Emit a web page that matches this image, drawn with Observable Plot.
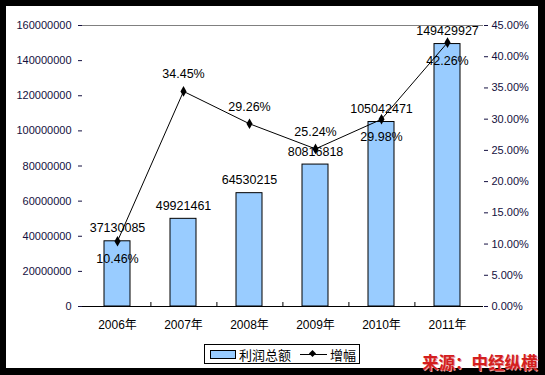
<!DOCTYPE html>
<html><head><meta charset="utf-8">
<script src="https://cdn.jsdelivr.net/npm/d3@7"></script>
<script src="https://cdn.jsdelivr.net/npm/@observablehq/plot@0.6"></script>
<style>
html,body{margin:0;padding:0;background:#000;}
#wrap{position:relative;width:545px;height:375px;background:#000;overflow:hidden;}
#inner{position:absolute;left:6px;top:6px;width:532px;height:362px;background:#fff;}
#chart{position:absolute;left:0;top:0;}
#legend{position:absolute;left:204px;top:344px;width:156px;height:20px;border:1px solid #000;background:#fff;
  font:13px "Noto Sans CJK SC",sans-serif;display:flex;align-items:center;box-sizing:border-box;padding-left:5px;white-space:nowrap;}
#legend .sw{display:inline-block;width:24px;height:7px;background:#99ccff;border:1px solid #000;margin-right:3px;}
#legend .ln{display:inline-block;position:relative;width:27px;height:1px;background:#000;margin:0 3px 0 9px;vertical-align:middle;}
#legend .ln:after{content:"";position:absolute;left:10px;top:-3px;width:5px;height:5px;background:#000;transform:rotate(45deg);}
#source{position:absolute;left:422px;top:350px;font:bold 16.5px "Noto Sans CJK SC",sans-serif;color:#d41e1e;text-shadow:1px 1px 0 #e8a0a0;white-space:nowrap;}
</style></head>
<body>
<div id="wrap"><div id="inner"></div><div id="chart"></div>
<div id="legend"><span class="sw"></span>利润总额<span class="ln"></span>增幅</div>
<div id="source">来源：中经纵横</div>
</div>
<script>
const years = ["2006年","2007年","2008年","2009年","2010年","2011年"];
const profit = [37130085, 49921461, 64530215, 80816818, 105042471, 149429927];
const growth = [10.46, 34.45, 29.26, 25.24, 29.98, 42.26];
const leftTicks = [0,20000000,40000000,60000000,80000000,100000000,120000000,140000000,160000000];
const rightTicks = [0,5,10,15,20,25,30,35,40,45];
const growthLabelBelow = [true,false,false,false,true,true];

const YMAX = 160000000, PMAX = 45;
const toY = p => p / PMAX * YMAX;
const data = years.map((y,i)=>({year:y, profit:profit[i], growth:growth[i], below:growthLabelBelow[i]}));
const textColor = "#141040";

const chart = Plot.plot({
  width:545, height:375,
  marginLeft:82, marginRight:62, marginTop:25, marginBottom:69,
  style:{background:"transparent", fontFamily:"'Liberation Sans', Arial, sans-serif"},
  x:{domain:years, paddingInner:0.6, paddingOuter:0.3, label:null},
  y:{domain:[0,YMAX], label:null},
  marks:[
    Plot.ruleY([YMAX],{stroke:"#808080"}),
    Plot.barY(data,{x:"year", y:"profit", fill:"#99ccff", stroke:"#000", strokeWidth:1}),
    Plot.ruleY([0],{stroke:"#000"}),
    Plot.ruleX(years.slice(0,5),{x:d=>d, dx:33.4, y1:0, y2:YMAX*4/281, stroke:"#000"}),
    Plot.axisY({ticks:leftTicks, tickFormat:d=>String(d), tickSize:4, tickPadding:7, fontSize:11, color:textColor, label:null}),
    Plot.axisY({anchor:"right", ticks:rightTicks.map(toY), tickFormat:d=>(d/YMAX*PMAX).toFixed(2)+"%", tickSize:4, tickPadding:4, fontSize:11, color:textColor, label:null}),
    Plot.ruleX([0],{frameAnchor:"left", y1:0, y2:YMAX, stroke:"#000"}),
    Plot.axisX({tickSize:0, tickPadding:14, fontSize:12, fontFamily:"'Liberation Sans','Noto Sans CJK SC',sans-serif", color:"#000", label:null}),
    Plot.lineY(data,{x:"year", y:d=>toY(d.growth), stroke:"#000", strokeWidth:1}),
    Plot.dot(data,{x:"year", y:d=>toY(d.growth), symbol:"diamond", r:3.2, fill:"#000", stroke:"none"}),
    Plot.text(data,{x:"year", y:"profit", text:d=>String(d.profit), dy:-13, fontSize:12.5, fill:"#000"}),
    Plot.text(data,{x:"year", y:d=>toY(d.growth), text:d=>d.growth.toFixed(2)+"%", fontSize:12.5, fill:"#000",
      filter:d=>d.below, dy:18}),
    Plot.text(data,{x:"year", y:d=>toY(d.growth), text:d=>d.growth.toFixed(2)+"%", fontSize:12.5, fill:"#000",
      filter:d=>!d.below, dy:-17})
  ]
});
document.getElementById("chart").appendChild(chart);
</script>
</body></html>
